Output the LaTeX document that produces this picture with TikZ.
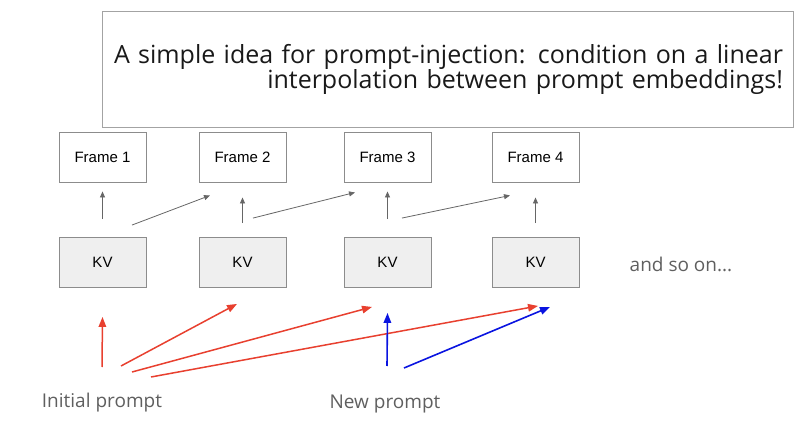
\documentclass[tikz,border=0pt]{standalone}
\usepackage{fontspec}
\setmainfont{Liberation Sans}
\newfontfamily\gfont{Open Sans}
\usepackage{xcolor}
\usetikzlibrary{arrows.meta}
\usetikzlibrary{calc}

\definecolor{boxgray}{HTML}{8C8C8C}
\definecolor{kvfill}{HTML}{EFEFEF}
\definecolor{txtgray}{HTML}{5F5F5F}
\definecolor{arrgray}{HTML}{666666}
\definecolor{injred}{HTML}{E8402F}
\definecolor{injblue}{HTML}{0A14E0}

\tikzset{
    framebox/.style={draw=boxgray,line width=0.9pt,minimum width=87pt,minimum height=50pt,inner sep=0pt,font=\fontsize{15}{18}\selectfont},
    kvbox/.style={framebox,fill=kvfill},
    titlebox/.style={draw=boxgray!80,line width=0.9pt,minimum width=691pt,minimum height=116pt,text width=671pt,inner xsep=10pt,align=right,font=\gfont\fontsize{25}{25}\selectfont,text=black!90},
    graylabel/.style={text=txtgray,font=\gfont\fontsize{19}{22}\selectfont},
    flow/.style={arrgray,line width=0.8pt,-{Triangle[length=6pt,width=5pt]}},
    oldarr/.style={injred,line width=1.5pt,-{Triangle[length=10pt,width=7.5pt]}},
    newarr/.style={injblue,line width=1.6pt,-{Triangle[length=10pt,width=7.5pt]}}
}

\begin{document}
\begin{tikzpicture}[x=1pt,y=-1pt]
        \useasboundingbox (0,0) rectangle (806,441);
        \node[titlebox] (title) at (447.5,69) {A simple idea for prompt-injection: condition on a linear\\ interpolation between prompt embeddings!};
        % frames and their caches
        \foreach \i/\x in {1/102.5,2/242.5,3/387.5,4/535.5}{
            \node[framebox] (f\i) at (\x,157) {Frame \i};
            \node[kvbox] (kv\i) at (\x,262.5) {KV};
        }
        \node[graylabel] (more) at (681,264) {and so on...};
        \node[graylabel] (init) at (102,403) {Initial prompt};
        \node[graylabel] (new) at (385,404) {New prompt};
        % cache to frame
        \draw[flow,shorten <=18pt,shorten >=9pt] (kv1) -- (f1);
        \draw[flow,shorten <=14pt,shorten >=15pt] (kv2) -- (f2);
        \draw[flow,shorten <=18pt,shorten >=9pt] (kv3) -- (f3);
        \draw[flow,shorten <=14pt,shorten >=15pt] (kv4) -- (f4);
        \draw[flow] ($(kv1.north)+(29.5,-12)$) -- ($(f2.south)+(-32.5,13)$);
        \draw[flow] ($(kv2.north)+(10.5,-19)$) -- ($(f3.south)+(-32.5,10)$);
        \draw[flow] ($(kv3.north)+(14.5,-19)$) -- ($(f4.south)+(-25.5,13)$);
        % prompt embeddings
        \coordinate (i0) at (102,367);
        \coordinate (i1) at (121,366);
        \coordinate (i2) at (132,372);
        \coordinate (i3) at (151,377);
        \coordinate (n0) at (387,366);
        \coordinate (n1) at (404,368);
        \draw[oldarr] (i0) -- ($(kv1.south)+(0,29)$);
        \draw[oldarr] (i1) -- ($(kv2.south)+(-5.5,16)$);
        \draw[oldarr] (i2) -- ($(kv3.south)+(-15.5,19)$);
        \draw[oldarr] (i3) -- ($(kv4.south)+(2.5,18)$);
        \draw[newarr] (n0) -- ($(kv3.south)+(0,25)$);
        \draw[newarr] (n1) -- ($(kv4.south)+(14.5,19)$);
    \end{tikzpicture}
\end{document}
